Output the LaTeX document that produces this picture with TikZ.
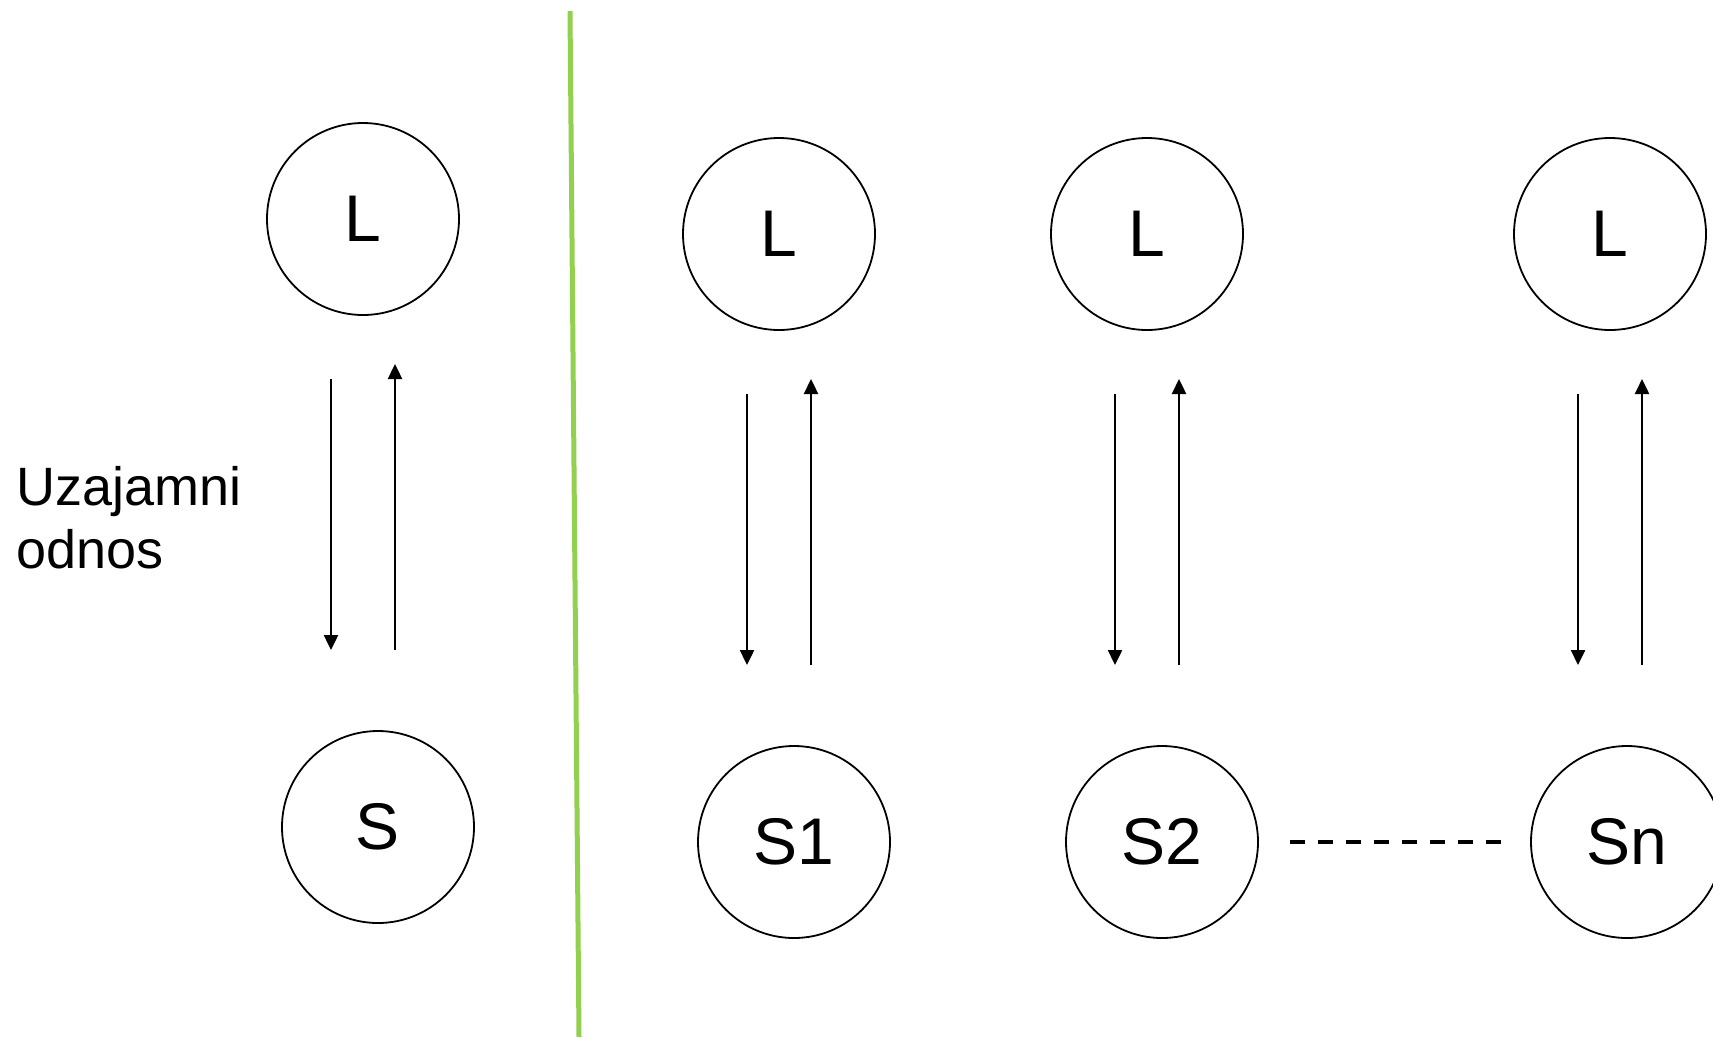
\documentclass[tikz,border=0pt]{standalone}
\usepackage{fontspec}
\setmainfont{Liberation Sans}
\usepackage{tikz}
\usetikzlibrary{positioning,arrows.meta,calc}
\definecolor{splitgreen}{RGB}{146,208,80}
\tikzset{
  circ/.style  = {draw, circle, line width=1.8pt, minimum size=192pt, inner sep=0pt, outer sep=0pt, font=\fontsize{66}{78}\selectfont},
  flow/.style  = {-{Triangle[length=15pt,width=14pt]}, line width=2.4pt},
  dots/.style  = {line width=3.6pt, dash pattern=on 15pt off 13pt},
  divider/.style = {line width=5pt, draw=splitgreen},
}
\begin{document}
\begin{tikzpicture}[x=1pt, y=-1pt]
  \useasboundingbox (0,0) rectangle (1713,1037);
  % one leader, one subordinate
  \node[circ] (L0) at (363,219) {L};
  \node[circ, below=416pt of L0, xshift=15pt] (S0) {S};
  \node[anchor=north west, inner sep=0pt, align=left, font=\fontsize{54}{63}\selectfont]
    (rel) at (16,466) {Uzajamni\\odnos};
  % separator
  \coordinate (divtop) at (570,11);
  \coordinate (divbot) at (579,1037);
  \draw[divider] (divtop) -- (divbot);
  % one leader per subordinate
  \node[circ] (L1) at (779,234) {L};
  \node[circ, right=176pt of L1] (L2) {L};
  \node[circ, right=271pt of L2] (L3) {L};
  \node[circ, below=416pt of L1, xshift=15pt] (S1) {S1};
  \node[circ, below=416pt of L2, xshift=15pt] (S2) {S2};
  \node[circ, below=416pt of L3, xshift=17pt] (S3) {Sn};
  \foreach \n in {0,1,2,3} {
    \draw[flow] ($(L\n)+(-32,160)$) -- ($(L\n)+(-32,431)$);
    \draw[flow] ($(L\n)+(32,431)$) -- ($(L\n)+(32,145)$);
  }
  \draw[dots, shorten <=32pt, shorten >=28pt] (S2) -- (S3);
\end{tikzpicture}
\end{document}
